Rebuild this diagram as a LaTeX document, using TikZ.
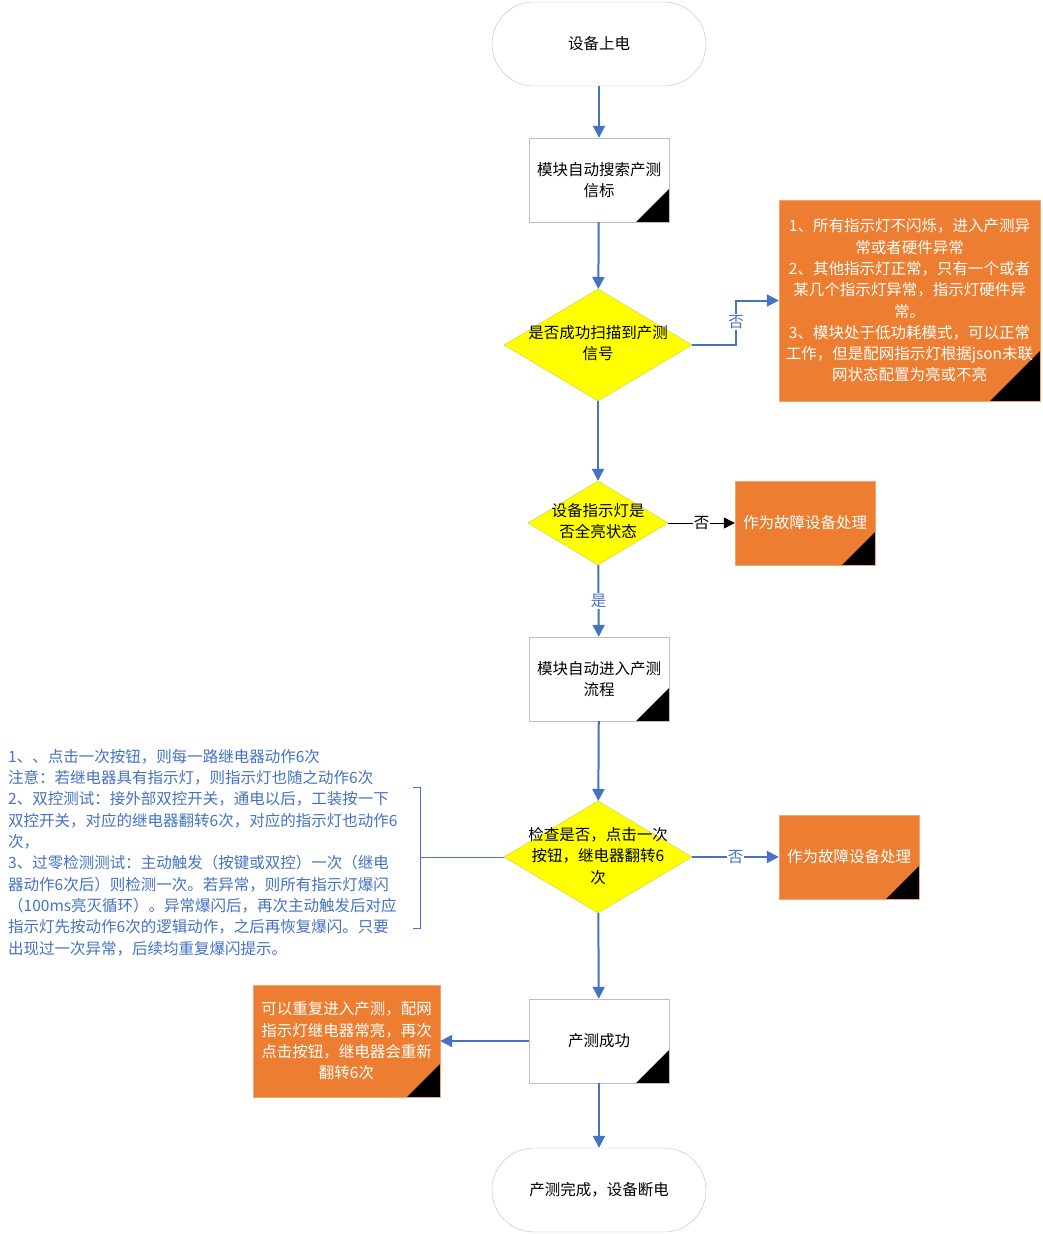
\documentclass[tikz,border=0pt]{standalone}
\usepackage{fontspec}
\setmainfont{Noto Sans CJK SC}
\usetikzlibrary{arrows.meta,shapes.geometric,calc}
\definecolor{lnblue}{HTML}{4472C4}
\definecolor{myorange}{HTML}{ED7D31}
\definecolor{myyellow}{HTML}{FFFF00}
\definecolor{boxgray}{HTML}{BFBFBF}
\begin{document}
\begin{tikzpicture}[x=1pt,y=-1pt,
 every node/.style={font=\fontsize{15.5}{21.3}\selectfont},
 dogear/.style={path picture={\fill[black] (path picture bounding box.south east) -- ++(-#1pt,0pt) -- ++(#1pt,#1pt) -- cycle;}},
 box/.style={draw=boxgray, fill=white, minimum width=140pt, minimum height=84pt, inner sep=0pt, align=center, dogear=33},
 obox/.style={draw=myorange!70!white, fill=myorange, text=white, align=center, inner sep=0pt},
 term/.style={draw=boxgray, fill=white, rounded corners=42pt, minimum width=214pt, minimum height=84pt, inner sep=0pt},
 dec/.style={diamond, draw=myyellow!60!gray, fill=myyellow, inner sep=0pt},
 dtext/.style={align=center, inner sep=0pt},
 arr/.style={draw=lnblue, line width=2pt, -{Triangle[length=12pt,width=12pt]}},
 lbl/.style={fill=white, inner sep=1pt, text=lnblue},
 thin/.style={draw=lnblue, line width=1pt}
]
\useasboundingbox (0,0) rectangle (1043,1234);
\fill[white] (0,0) rectangle (1043,1234);

% main column
\node[term] (start) at (599,44) {设备上电};
\node[box] (b1) at (599,180) {模块自动搜索产测\\信标};
\node[dec, minimum width=188pt, minimum height=112pt] (d1) at (598,345) {};
\node[dtext] (t1) at (598,343) {是否成功扫描到产测\\信号};
\node[dec, minimum width=140pt, minimum height=84pt] (d2) at (598,523) {};
\node[dtext] (t2) at (598,521) {设备指示灯是\\否全亮状态};
\node[box] (b2) at (599,679) {模块自动进入产测\\流程};
\node[dec, minimum width=188pt, minimum height=112pt] (d3) at (598,857) {};
\node[dtext] (t3) at (598,856) {检查是否，点击一次\\按钮，继电器翻转6\\次};
\node[box] (b3) at (599,1041) {产测成功};
\node[term] (end) at (599,1190) {产测完成，设备断电};

% orange boxes
\node[obox, minimum width=261pt, minimum height=201pt, dogear=50] (o1) at (909.5,300.5)
 {1、所有指示灯不闪烁，进入产测异\\常或者硬件异常\\2、其他指示灯正常，只有一个或者\\某几个指示灯异常，指示灯硬件异\\常。\\3、模块处于低功耗模式，可以正常\\工作，但是配网指示灯根据json未联\\网状态配置为亮或不亮};
\node[obox, minimum width=140pt, minimum height=84pt, dogear=33] (o2) at (805,523) {作为故障设备处理};
\node[obox, minimum width=140pt, minimum height=84pt, dogear=33] (o3) at (849,857) {作为故障设备处理};
\node[obox, minimum width=187pt, minimum height=112pt, dogear=33] (o4) at (346.5,1041)
 {可以重复进入产测，配网\\指示灯继电器常亮，再次\\点击按钮，继电器会重新\\翻转6次};

% left annotation
\node[align=left, anchor=north west, inner sep=0pt, text=lnblue] (note) at (8,749)
 {1、、点击一次按钮，则每一路继电器动作6次\\
  注意：若继电器具有指示灯，则指示灯也随之动作6次\\
  2、双控测试：接外部双控开关，通电以后，工装按一下\\
  双控开关，对应的继电器翻转6次，对应的指示灯也动作6\\
  次，\\
  3、过零检测测试：主动触发（按键或双控）一次（继电\\
  器动作6次后）则检测一次。若异常，则所有指示灯爆闪\\
  （100ms亮灭循环）。异常爆闪后，再次主动触发后对应\\
  指示灯先按动作6次的逻辑动作，之后再恢复爆闪。只要\\
  出现过一次异常，后续均重复爆闪提示。};

% bracket
\coordinate (brt) at (413,787);
\coordinate (brb) at (413,928);
\coordinate (brm) at (420,857);
\draw[thin] (brt) -- ++(7,0) -- ++(0,141) -- (brb);
\draw[thin] (d3.west) -- (brm);

% connectors
\draw[arr] (start) -- (b1);
\draw[arr] (b1) -- (d1);
\draw[arr] (d1.east) -- ++(44,0) |- (o1.west);
\node[lbl] (n1) at (736,322) {否};
\draw[arr] (d1) -- (d2);
\draw[black, line width=1pt, -{Triangle[length=11pt,width=11pt]}] (d2.east) -- node[fill=white, inner sep=1pt, text=black] (n2) {否} (o2.west);
\draw[arr] (d2) -- node[lbl, pos=0.5] (y1) {是} (b2);
\draw[arr] (b2) -- (d3);
\draw[arr] (d3.east) -- node[lbl, pos=0.5] (n3) {否} (o3.west);
\draw[arr] (d3) -- (b3);
\draw[arr] (b3.west) -- (o4.east);
\draw[arr] (b3) -- (end);
\end{tikzpicture}
\end{document}
